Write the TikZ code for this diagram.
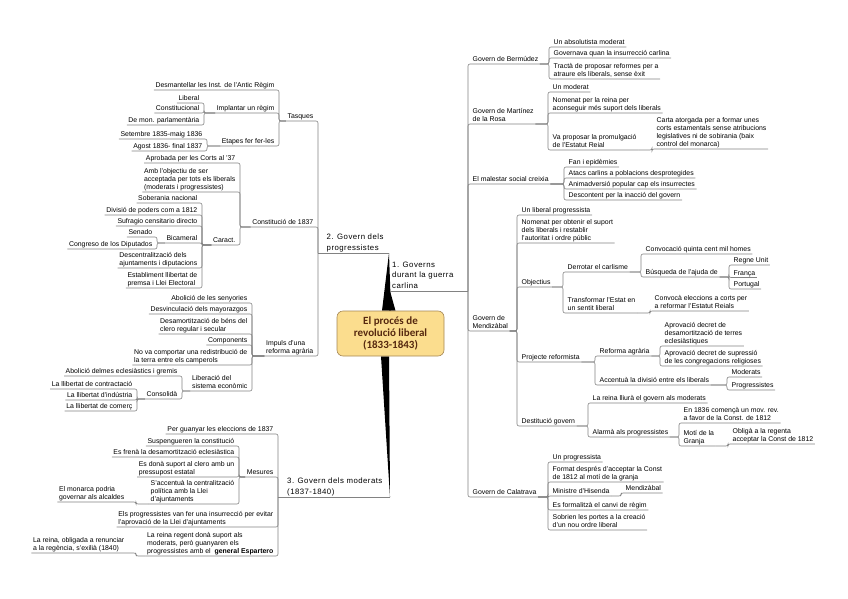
\documentclass[tikz,border=0pt]{standalone}
\usepackage{fontspec}
\setmainfont{Liberation Sans}
\newfontfamily\titlefont{Carlito}
\newfontfamily\topicfont[LetterSpace=6]{Liberation Sans}
\usetikzlibrary{backgrounds,calc}
\definecolor{linec}{RGB}{130,130,130}
\definecolor{rootfill}{RGB}{251,221,142}
\definecolor{rootdraw}{RGB}{165,135,85}
\definecolor{roottext}{RGB}{85,40,15}
\tikzset{
  tx/.style={font=\fontsize{6.9}{8.2}\selectfont, align=left, inner xsep=1.5pt, inner ysep=0.6pt, text depth=1.5pt},
  R/.style={tx, anchor=south west},
  L/.style={tx, anchor=south east},
  topic/.style={font=\topicfont\fontsize{7.8}{10.5}\selectfont, align=left, inner xsep=1pt, inner ysep=1pt, text depth=1.6pt},
  ln/.style={draw=linec, line width=0.6pt, rounded corners=2pt},
  rb/.style={to path={let \p1=(\tikztostart), \p2=(\tikztotarget.south west), \p3=(\tikztotarget.south east) in -- (\x2-#1,\y1) |- (\p3)}},
  rb/.default=3pt,
  lb/.style={to path={let \p1=(\tikztostart), \p2=(\tikztotarget.south east), \p3=(\tikztotarget.south west) in -- (\x2+#1,\y1) |- (\p3)}},
  lb/.default=3pt,
  rb0/.style={to path={|- (\tikztotarget.south east)}},
  lb0/.style={to path={|- (\tikztotarget.south west)}},
  rootbox/.style={draw=rootdraw, fill=rootfill, rounded corners=6pt, line width=0.6pt, minimum width=107pt, minimum height=45pt, align=center, font=\titlefont\bfseries\fontsize{11}{12}\selectfont, text=roottext},
}
\begin{document}
\begin{tikzpicture}[x=1pt,y=-1pt]
\useasboundingbox (0,0) rectangle (848,599);

% root
\node[rootbox] (root) at (390.5,333.5) {El procés de\\revolució liberal\\(1833-1843)};

% main topics
\coordinate (t1L) at (390,291);
\coordinate (t1R) at (468,291);
\coordinate (t2L) at (318,253);
\coordinate (t2R) at (389,253);
\coordinate (t3L) at (278,497);
\coordinate (t3R) at (390,497);
\node[topic, anchor=south west] (t1) at (391,291) {1. Governs\\durant la guerra\\carlina};
\node[topic, anchor=south west] (t2) at (325.5,253) {2. Govern dels\\progressistes};
\node[topic, anchor=south west] (t3) at (286,497) {3. Govern dels moderats\\(1837-1840)};

\begin{scope}[on background layer]
  \fill[black] ($(root.north)+(-8.5,0)$) -- ($(root.north)+(0.5,0)$) -- (t2R) -- cycle;
  \fill[black] ($(root.north)+(-1.5,0)$) -- ($(root.north)+(5,0)$) -- (t1L) -- cycle;
  \fill[black] ($(root.south)+(-9.5,0)$) -- ($(root.south)+(-1.5,0)$) -- (t3R) -- cycle;
\end{scope}

% ---------- right side (topic 1)
\node[R] (b1) at (471,64) {Govern de Bermúdez};
\node[R] (b11) at (552,47) {Un absolutista moderat};
\node[R] (b12) at (552,58) {Governava quan la insurrecció carlina};
\node[R] (b13) at (552,79) {Tractà de proposar reformes per a\\atraure els liberals, sense èxit};
\node[R] (b2) at (471,124) {Govern de Martínez\\de la Rosa};
\node[R] (b21) at (551,92) {Un moderat};
\node[R] (b22) at (551,113) {Nomenat per la reina per\\aconseguir més suport dels liberals};
\node[R] (b23) at (551,150) {Va proposar la promulgació\\de l'Estatut Reial};
\node[R] (b231) at (655,149) {Carta atorgada per a formar unes\\corts estamentals sense atribucions\\legislatives ni de sobirania (baix\\control del monarca)};
\node[R] (b3) at (471,184) {El malestar social creixia};
\node[R] (b31) at (567,167) {Fan i epidèmies};
\node[R] (b32) at (567,178) {Atacs carlins a poblacions desprotegides};
\node[R] (b33) at (567,189) {Animadversió popular cap els insurrectes};
\node[R] (b34) at (567,200) {Descontent per la inacció del govern};
\node[R] (b4) at (471,331) {Govern de\\Mendizàbal};
\node[R] (b41) at (520,215) {Un liberal progressista};
\node[R] (b42) at (520,243) {Nomenat per obtenir el suport\\dels liberals i restablir\\l'autoritat i ordre públic};
\node[R] (b43) at (520,287) {Objectius};
\node[R] (b431) at (566,272) {Derrotar el carlisme};
\node[R] (b4311) at (644,254) {Convocació quinta cent mil homes};
\node[R] (b4312) at (644,277) {Búsqueda de l'ajuda de};
\node[R] (rg) at (732,265) {Regne Unit};
\node[R] (fr) at (732,277.5) {França};
\node[R] (pt) at (732,289) {Portugal};
\node[R] (b432) at (566,313) {Transformar l'Estat en\\un sentit liberal};
\node[R] (b4321) at (653,311) {Convocà eleccions a corts per\\a reformar l'Estatut Reials};
\node[R] (b44) at (520,362) {Projecte reformista};
\node[R] (b441) at (598,356) {Reforma agrària};
\node[R] (b4411) at (663,346) {Aprovació decret de\\desamortització de terres\\eclesiàstiques};
\node[R] (b4412) at (663,366) {Aprovació decret de supressió\\de les congregacions religioses};
\node[R] (b442) at (598,385) {Accentuà la divisió entre els liberals};
\node[R] (md) at (730,377) {Moderats};
\node[R] (pg) at (730,390) {Progressistes};
\node[R] (b45) at (520,426) {Destitució govern};
\node[R] (b451) at (591,403) {La reina lliurà el govern als moderats};
\node[R] (b452) at (591,437) {Alarmà als progressistes};
\node[R] (b4521) at (682,423) {En 1836 començà un mov. rev.\\a favor de la Const. de 1812};
\node[R] (b4522) at (682,446) {Motí de la\\Granja};
\node[R] (b45221) at (731,444) {Obligà a la regenta\\acceptar la Const de 1812};
\node[R] (b5) at (471,497) {Govern de Calatrava};
\node[R] (b51) at (551,462) {Un progressista};
\node[R] (b52) at (551,482) {Format després d'acceptar la Const\\de 1812 al motí de la granja};
\node[R] (b53) at (551,496) {Ministre d'Hisenda};
\node[R] (b531) at (624,493) {Mendizàbal};
\node[R] (b54) at (551,510) {Es formalitzà el canvi de règim};
\node[R] (b55) at (551,530) {Sobrien les portes a la creació\\d'un nou ordre liberal};

% ---------- left side (topic 2)
\node[L] (a1) at (315,121) {Tasques};
\node[L] (a11) at (276,90) {Desmantellar les Inst. de l'Antic Règim};
\node[L] (a12) at (276,113) {Implantar un règim};
\node[L] (a121) at (201,103) {Liberal};
\node[L] (a122) at (201,113) {Constitucional};
\node[L] (a123) at (201,125) {De mon. parlamentària};
\node[L] (a13) at (276,146) {Etapes fer fer-les};
\node[L] (a131) at (204,139) {Setembre 1835-maig 1836};
\node[L] (a132) at (204,151) {Agost 1836- final 1837};
\node[L] (a2) at (315,227) {Constitució de 1837};
\node[L] (a21) at (237,163) {Aprobada per les Corts al '37};
\node[L] (a22) at (237,192) {Amb l'objectiu de ser\\acceptada per tots els liberals\\(moderats i progressistes)};
\node[L] (a23) at (237,245) {Caract.};
\node[L] (a231) at (199,203) {Soberania nacional};
\node[L] (a232) at (199,215) {Divisió de poders com a 1812};
\node[L] (a233) at (199,226) {Sufragio censitario directo};
\node[L] (a234) at (199,243) {Bicameral};
\node[L] (a2341) at (154,237) {Senado};
\node[L] (a2342) at (154,249) {Congreso de los Diputados};
\node[L] (a235) at (199,268) {Descentralització dels\\ajuntaments i diputacions};
\node[L] (a236) at (199,288) {Establiment llibertat de\\premsa i Llei Electoral};
\node[L] (a3) at (315,356) {Impuls d'una\\reforma agrària};
\node[L] (a31) at (249,303) {Abolició de les senyories};
\node[L] (a32) at (249,314) {Desvinculació dels mayorazgos};
\node[L] (a33) at (249,334) {Desamortització de béns del\\clero regular i secular};
\node[L] (a34) at (249,345) {Components};
\node[L] (a35) at (249,365) {No va comportar una redistribució de\\la terra entre els camperols};
\node[L] (a36) at (249,391) {Liberació del\\sistema econòmic};
\node[L] (a361) at (179,376) {Abolició delmes eclesiàstics i gremis};
\node[L] (a362) at (179,399) {Consolidà};
\node[L] (a3621) at (134,389) {La llibertat de contractació};
\node[L] (a3622) at (134,400) {La llibertat d'indústria};
\node[L] (a3623) at (134,411) {La llibertat de comerç};

% ---------- left side (topic 3)
\node[L] (c1) at (275,434) {Per guanyar les eleccions de 1837};
\node[L] (c2) at (275,477) {Mesures};
\node[L] (c21) at (236,446) {Suspengueren la constitució};
\node[L] (c22) at (236,457) {Es frenà la desamortització eclesiàstica};
\node[L] (c23) at (236,477) {Es donà suport al clero amb un\\pressupost estatal};
\node[L] (c24) at (236,504) {S'accentuà la centralització\\política amb la Llei\\d'ajuntaments};
\node[L] (c241) at (126,502) {El monarca podria\\governar als alcaldes};
\node[L] (c3) at (275,527) {Els progressistes van fer una insurrecció per evitar\\l'aprovació de la Llei d'ajuntaments};
\node[L] (c4) at (275,556) {La reina regent donà suport als\\moderats, però guanyaren els\\progressistes amb el \ \textbf{general Espartero}};
\node[L] (c41) at (126,553) {La reina, obligada a renunciar\\a la regència, s'exilià (1840)};

% ---------- connectors
\draw[ln] (t1L) -- (t1R);
\draw[ln] (t2R) -- (t2L);
\draw[ln] (t3R) -- (t3L);
\foreach \c in {b1,b2,b3,b4,b5} \draw[ln] (t1R) to[rb0] (\c);
\foreach \c in {b11,b12,b13} \draw[ln] (b1.south east) to[rb] (\c);
\foreach \c in {b21,b22,b23} \draw[ln] (b2.south east) to[rb] (\c);
\draw[ln] (b23.south east) to[rb] (b231);
\foreach \c in {b31,b32,b33,b34} \draw[ln] (b3.south east) to[rb] (\c);
\foreach \c in {b41,b42,b43,b44,b45} \draw[ln] (b4.south east) to[rb] (\c);
\foreach \c in {b431,b432} \draw[ln] (b43.south east) to[rb] (\c);
\foreach \c in {b4311,b4312} \draw[ln] (b431.south east) to[rb] (\c);
\foreach \c in {rg,fr,pt} \draw[ln] (b4312.south east) to[rb] (\c);
\draw[ln] (b432.south east) to[rb] (b4321);
\foreach \c in {b441,b442} \draw[ln] (b44.south east) to[rb] (\c);
\foreach \c in {b4411,b4412} \draw[ln] (b441.south east) to[rb] (\c);
\foreach \c in {md,pg} \draw[ln] (b442.south east) to[rb] (\c);
\foreach \c in {b451,b452} \draw[ln] (b45.south east) to[rb] (\c);
\foreach \c in {b4521,b4522} \draw[ln] (b452.south east) to[rb] (\c);
\draw[ln] (b4522.south east) to[rb] (b45221);
\foreach \c in {b51,b52,b53,b54,b55} \draw[ln] (b5.south east) to[rb] (\c);
\draw[ln] (b53.south east) to[rb] (b531);

\foreach \c in {a1,a2,a3} \draw[ln] (t2L) to[lb0] (\c);
\foreach \c in {a11,a12,a13} \draw[ln] (a1.south west) to[lb] (\c);
\foreach \c in {a121,a122,a123} \draw[ln] (a12.south west) to[lb] (\c);
\foreach \c in {a131,a132} \draw[ln] (a13.south west) to[lb] (\c);
\foreach \c in {a21,a22,a23} \draw[ln] (a2.south west) to[lb] (\c);
\foreach \c in {a231,a232,a233,a234,a235,a236} \draw[ln] (a23.south west) to[lb] (\c);
\foreach \c in {a2341,a2342} \draw[ln] (a234.south west) to[lb] (\c);
\foreach \c in {a31,a32,a33,a34,a35,a36} \draw[ln] (a3.south west) to[lb] (\c);
\foreach \c in {a361,a362} \draw[ln] (a36.south west) to[lb] (\c);
\foreach \c in {a3621,a3622,a3623} \draw[ln] (a362.south west) to[lb] (\c);

\foreach \c in {c1,c2,c3,c4} \draw[ln] (t3L) to[lb0] (\c);
\foreach \c in {c21,c22,c23,c24} \draw[ln] (c2.south west) to[lb] (\c);
\draw[ln] (c24.south west) to[lb=10pt] (c241);
\draw[ln] (c4.south west) to[lb=10pt] (c41);
\end{tikzpicture}
\end{document}
